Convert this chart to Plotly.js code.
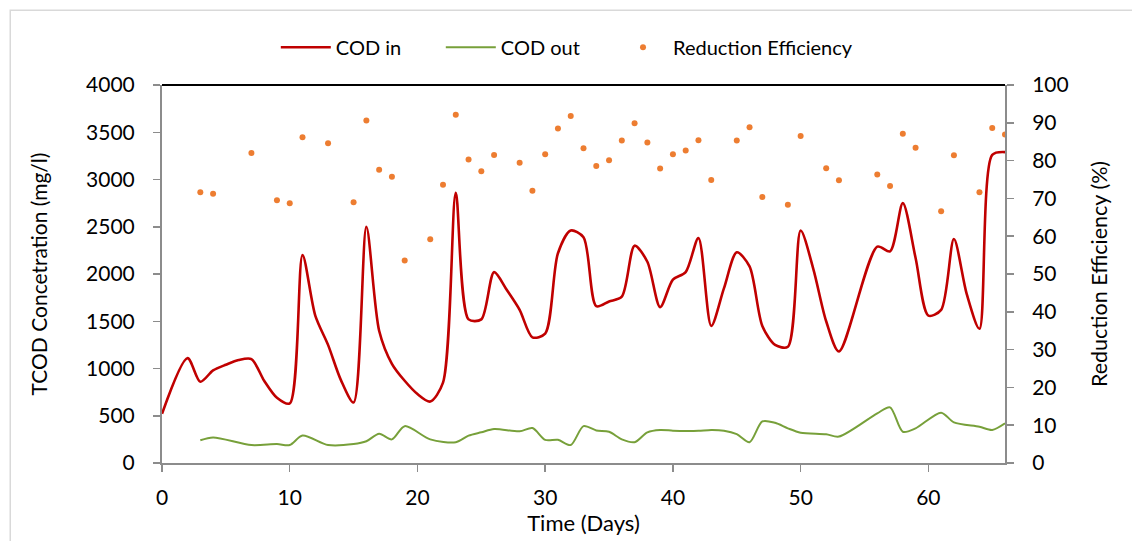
<!DOCTYPE html>
<html>
<head>
<meta charset="utf-8">
<script src="https://cdn.plot.ly/plotly-3.0.1.min.js"></script>
<style>html,body{margin:0;padding:0;background:#fff;}#chart{width:1132px;height:541px;}</style>
</head>
<body>
<div id="chart"></div>
<script>
// COD in (mg/l)
var codInDays = [0, 2, 3, 4, 5, 6, 7, 8, 9, 10, 11, 12, 13, 14, 15, 16, 17, 18, 19, 20, 21, 22, 23, 24, 25, 26, 27, 28, 29, 30, 31, 32, 33, 34, 35, 36, 37, 38, 39, 40, 41, 42, 43, 44, 45, 46, 47, 48, 49, 50, 51, 52, 53, 56, 57, 58, 59, 60, 61, 62, 63, 64, 65, 66];
var codIn = [520, 1110, 860, 980, 1040, 1090, 1100, 870, 690, 630, 2200, 1560, 1250, 880, 640, 2500, 1400, 1050, 870, 730, 650, 850, 2860, 1520, 1520, 2020, 1830, 1620, 1330, 1370, 2220, 2460, 2390, 1660, 1710, 1760, 2300, 2130, 1650, 1940, 2020, 2380, 1450, 1850, 2230, 2080, 1450, 1250, 1230, 2460, 2050, 1500, 1180, 2290, 2240, 2750, 2170, 1560, 1620, 2370, 1790, 1420, 3260, 3290];
// COD out (mg/l)
var codOutDays = [3, 4, 7, 9, 10, 11, 13, 15, 16, 17, 18, 19, 21, 23, 24, 25, 26, 28, 29, 30, 31, 32, 33, 34, 35, 36, 37, 38, 39, 40, 41, 42, 43, 44, 45, 46, 47, 48, 49, 50, 52, 53, 56, 57, 58, 59, 61, 62, 64, 65, 66];
var codOut = [240, 270, 190, 200, 190, 290, 190, 200, 230, 310, 250, 390, 250, 220, 290, 325, 360, 335, 370, 245, 245, 190, 390, 345, 330, 250, 220, 325, 350, 342, 338, 340, 350, 342, 305, 220, 440, 425, 367, 321, 304, 280, 526, 589, 331, 367, 533, 430, 384, 350, 420];
// Reduction efficiency (%)
var reDays = [3, 4, 7, 9, 10, 11, 13, 15, 16, 17, 18, 19, 21, 22, 23, 24, 25, 26, 28, 29, 30, 31, 32, 33, 34, 35, 36, 37, 38, 39, 40, 41, 42, 43, 45, 46, 47, 49, 50, 52, 53, 56, 57, 58, 59, 61, 62, 64, 65, 66];
var reEff = [71.6, 71.2, 82.0, 69.5, 68.7, 86.2, 84.6, 69.0, 90.6, 77.6, 75.7, 53.6, 59.2, 73.6, 92.1, 80.3, 77.2, 81.5, 79.4, 72.0, 81.7, 88.5, 91.8, 83.3, 78.6, 80.1, 85.3, 89.9, 84.8, 77.9, 81.7, 82.7, 85.4, 74.9, 85.3, 88.8, 70.4, 68.3, 86.5, 78.0, 74.8, 76.3, 73.3, 87.1, 83.4, 66.6, 81.4, 71.6, 88.6, 86.9];
var xTicks = [0, 10, 20, 30, 40, 50, 60];

var FONT = 'Lato, "Open Sans", sans-serif';
var traces = [
  {x: codInDays, y: codIn, name: 'COD in', type: 'scatter', mode: 'lines', legend: 'legend',
   line: {color: '#c00000', width: 2.6, shape: 'spline', smoothing: 0.8}},
  {x: codOutDays, y: codOut, name: 'COD out', type: 'scatter', mode: 'lines', legend: 'legend',
   line: {color: '#77a03a', width: 2, shape: 'spline', smoothing: 0.8}},
  {x: reDays, y: reEff, name: 'Reduction Efficiency', type: 'scatter', mode: 'markers', legend: 'legend2',
   yaxis: 'y2', marker: {color: '#ed7d31', size: 6}}
];
var axisCommon = {showgrid: false, zeroline: false, showline: true, linecolor: '#8c8c8c', linewidth: 2,
  ticks: 'outside', ticklen: 7, tickcolor: '#8c8c8c', tickwidth: 1.5, tickfont: {size: 21}};
var legendCommon = {orientation: 'h', xanchor: 'left', y: 1.1, yanchor: 'middle',
  bgcolor: 'rgba(0,0,0,0)', font: {family: FONT, size: 20}, itemwidth: 50, traceorder: 'normal'};
var layout = {
  width: 1132, height: 541,
  margin: {l: 162, r: 127, t: 85, b: 78},
  paper_bgcolor: '#fff', plot_bgcolor: '#fff',
  font: {family: FONT, size: 20, color: '#000'},
  showlegend: true,
  legend: Object.assign({}, legendCommon, {x: 0.135, entrywidth: 100, entrywidthmode: 'pixels'}),
  legend2: Object.assign({}, legendCommon, {x: 0.535}),
  xaxis: Object.assign({}, axisCommon, {range: [0, 66], tickvals: xTicks, ticklabelstandoff: 8,
          title: {text: 'Time (Days)', font: {size: 22}, standoff: 0}}),
  yaxis: Object.assign({}, axisCommon, {range: [0, 4000], dtick: 500, ticklabelstandoff: 14,
          title: {text: 'TCOD Concetration (mg/l)', font: {size: 21}, standoff: 33}}),
  yaxis2: Object.assign({}, axisCommon, {range: [0, 100], dtick: 10, overlaying: 'y', side: 'right',
          ticklabelstandoff: 14,
          title: {text: 'Reduction Efficiency (%)', font: {size: 21.5}, standoff: 24}}),
  shapes: [
    {type: 'line', xref: 'paper', yref: 'paper', x0: 0, x1: 1, y0: 1, y1: 1,
     line: {color: '#000', width: 2}},
    {type: 'rect', xref: 'paper', yref: 'paper', x0: -0.18, x1: 1.2, y0: -0.3, y1: 1.198,
     line: {color: '#d9d9d9', width: 1.5}, layer: 'below'}
  ]
};
Plotly.newPlot('chart', traces, layout, {displayModeBar: false, staticPlot: true});
</script>
</body>
</html>
